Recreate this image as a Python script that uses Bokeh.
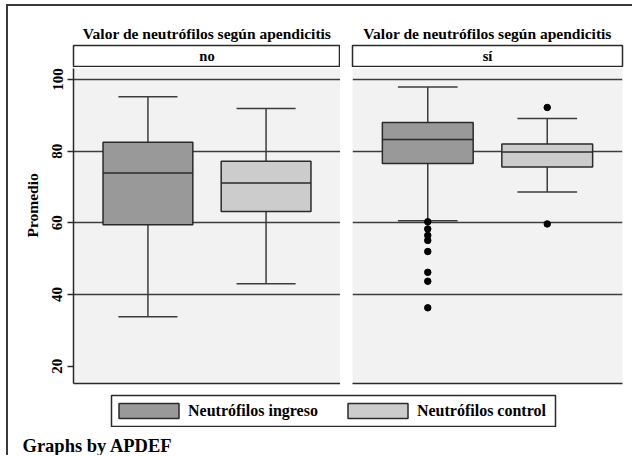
from bokeh.plotting import figure
from bokeh.layouts import column, row
from bokeh.models import Range1d, FixedTicker, Label, Legend, LegendItem, Title
from bokeh.embed import file_html
from bokeh.resources import INLINE

# ---------------- data ----------------
groups = ["no", "sí"]
series = ["Neutrófilos ingreso", "Neutrófilos control"]

ingreso_lower = [33.8, 60.6]
ingreso_q1 = [59.5, 76.6]
ingreso_med = [73.9, 83.3]
ingreso_q3 = [82.5, 88.0]
ingreso_upper = [95.2, 97.9]
ingreso_outliers = [[], [60.3, 58.3, 56.5, 55.1, 52.0, 46.2, 43.7, 36.3]]

control_lower = [43.0, 68.6]
control_q1 = [63.2, 75.6]
control_med = [71.1, 79.8]
control_q3 = [77.2, 82.0]
control_upper = [91.9, 89.1]
control_outliers = [[], [92.2, 59.7]]

y_ticks = [20, 40, 60, 80, 100]
grid_ticks = [40, 60, 80, 100]
title_text = "Valor de neutrófilos según apendicitis"
y_label = "Promedio"
note = "Graphs by APDEF"

# ---------------- styles ----------------
FONT = "Liberation Serif"
fills = ["#999999", "#cccccc"]
DARK = "#2a2a2a"
GRID = "#3c3c3c"
BG = "#f2f2f2"

stats = [
    (ingreso_lower, ingreso_q1, ingreso_med, ingreso_q3, ingreso_upper, ingreso_outliers),
    (control_lower, control_q1, control_med, control_q3, control_upper, control_outliers),
]

X_RANGE = (0.37, 2.63)
Y_RANGE = (15.17, 103.08)
BOX_W = 0.76
CAP_W = 0.5


def bare(fig):
    fig.border_fill_color = None
    fig.grid.visible = False


def header(gi, width, left, right):
    h = figure(width=width, height=67, output_backend="svg", toolbar_location=None,
               x_range=Range1d(0, 1), y_range=Range1d(0, 1),
               x_axis_location=None, y_axis_location=None,
               min_border_left=left, min_border_right=right,
               min_border_top=45, min_border_bottom=1)
    bare(h)
    h.background_fill_color = "white"
    h.outline_line_color = DARK
    h.outline_line_width = 1.5
    h.title.text = title_text
    h.title.align = "center"
    h.title.text_font = FONT
    h.title.text_font_size = "15.5px"
    h.title.text_font_style = "bold"
    h.title.text_color = "black"
    h.title.standoff = 8
    h.add_layout(Label(x=0.5, y=0.5, text=groups[gi], text_align="center",
                       text_baseline="middle", text_font=FONT,
                       text_font_size="14.5px", text_font_style="bold",
                       text_color="black"))
    return h


def panel(gi, width, left, right, with_axis):
    p = figure(width=width, height=321, output_backend="svg", toolbar_location=None,
               x_range=Range1d(*X_RANGE), y_range=Range1d(*Y_RANGE),
               y_axis_location="left" if with_axis else None,
               min_border_left=left, min_border_right=right,
               min_border_top=1, min_border_bottom=5)
    p.background_fill_color = BG
    p.border_fill_color = None
    p.outline_line_color = None
    p.xgrid.visible = False
    p.ygrid.ticker = FixedTicker(ticks=grid_ticks)
    p.ygrid.grid_line_color = GRID
    p.ygrid.grid_line_width = 1.5

    p.xaxis.ticker = FixedTicker(ticks=[])
    p.xaxis.axis_line_color = DARK
    p.xaxis.axis_line_width = 1.5
    p.xaxis.major_tick_out = 0
    p.xaxis.major_tick_in = 0
    p.xaxis.minor_tick_line_color = None
    p.xaxis.major_label_standoff = 0

    if with_axis:
        ax = p.yaxis[0]
        ax.ticker = FixedTicker(ticks=y_ticks)
        ax.axis_line_color = DARK
        ax.axis_line_width = 1.5
        ax.major_tick_line_color = DARK
        ax.major_tick_line_width = 1.5
        ax.major_tick_out = 6
        ax.major_tick_in = 0
        ax.minor_tick_line_color = None
        ax.major_label_orientation = "vertical"
        ax.major_label_standoff = 5
        ax.major_label_text_font = FONT
        ax.major_label_text_font_size = "15px"
        ax.major_label_text_font_style = "bold"
        ax.major_label_text_color = "black"
        p.add_layout(Title(text=y_label, align="left", offset=146, standoff=18,
                           text_font=FONT, text_font_size="15.5px",
                           text_font_style="bold", text_color="black"), "left")

    for si, (lo, q1, med, q3, up, outl) in enumerate(stats):
        x = si + 1
        # whiskers
        p.segment(x0=[x, x], y0=[q3[gi], q1[gi]], x1=[x, x], y1=[up[gi], lo[gi]],
                  line_color=GRID, line_width=1.5)
        p.segment(x0=[x - CAP_W / 2] * 2, y0=[up[gi], lo[gi]],
                  x1=[x + CAP_W / 2] * 2, y1=[up[gi], lo[gi]],
                  line_color=GRID, line_width=1.5)
        # box
        p.vbar(x=[x], width=BOX_W, bottom=[q1[gi]], top=[q3[gi]],
               fill_color=fills[si], line_color=DARK, line_width=1.5)
        # median
        p.segment(x0=[x - BOX_W / 2], y0=[med[gi]], x1=[x + BOX_W / 2], y1=[med[gi]],
                  line_color=DARK, line_width=1.5)
        if outl[gi]:
            p.scatter(x=[x] * len(outl[gi]), y=outl[gi], size=6.5,
                      fill_color="black", line_color="black")
    return p


h_left = header(0, 340, 73, 0)
h_right = header(1, 292, 12, 10)
p_left = panel(0, 340, 73, 0, True)
p_right = panel(1, 292, 12, 10, False)

# ---------------- legend ----------------
pb = figure(width=632, height=39, output_backend="svg", toolbar_location=None,
            x_range=Range1d(0, 1), y_range=Range1d(0, 1),
            x_axis_location=None, y_axis_location=None,
            min_border_left=111, min_border_right=77,
            min_border_top=7, min_border_bottom=1)
bare(pb)
pb.background_fill_color = "white"
pb.outline_line_color = DARK
pb.outline_line_width = 1.5

items = []
for si, name in enumerate(series):
    # legend swatch source: the series' medians (renderer itself hidden)
    r = pb.vbar(x=[0.5], top=[ingreso_med[0] if si == 0 else control_med[0]],
                width=0.1, fill_color=fills[si], line_color=DARK, line_width=1.5,
                visible=False)
    items.append(LegendItem(label=name, renderers=[r]))

legend = Legend(items=items, orientation="horizontal", location=(0, 6),
                padding=0, margin=0, spacing=22, glyph_width=75, glyph_height=19,
                label_height=19, label_standoff=2,
                border_line_alpha=0, background_fill_alpha=0,
                inactive_fill_alpha=0,
                label_text_font=FONT, label_text_font_size="16px",
                label_text_font_style="bold", label_text_color="black")
pb.add_layout(legend)

# ---------------- note ----------------
pf = figure(width=632, height=28, output_backend="svg", toolbar_location=None,
            x_range=Range1d(0, 1), y_range=Range1d(0, 1),
            x_axis_location=None, y_axis_location=None,
            min_border_left=22, min_border_right=0,
            min_border_top=0, min_border_bottom=0)
bare(pf)
pf.background_fill_color = None
pf.outline_line_color = None
pf.add_layout(Label(x=0, y=0.357, text=note, text_align="left",
                    text_baseline="alphabetic", text_font=FONT,
                    text_font_size="18.5px", text_font_style="bold",
                    text_color="black"))

layout = column(row(h_left, h_right), row(p_left, p_right), row(pb), row(pf),
                styles={
                    "background-image": "linear-gradient(#3a3a3a, #3a3a3a), "
                                        "linear-gradient(#3a3a3a, #3a3a3a)",
                    "background-position": "6px 4px, 6px 4px",
                    "background-size": "100% 2px, 2px 100%",
                    "background-repeat": "no-repeat",
                })

open("out.html", "w").write(file_html(layout, INLINE))
